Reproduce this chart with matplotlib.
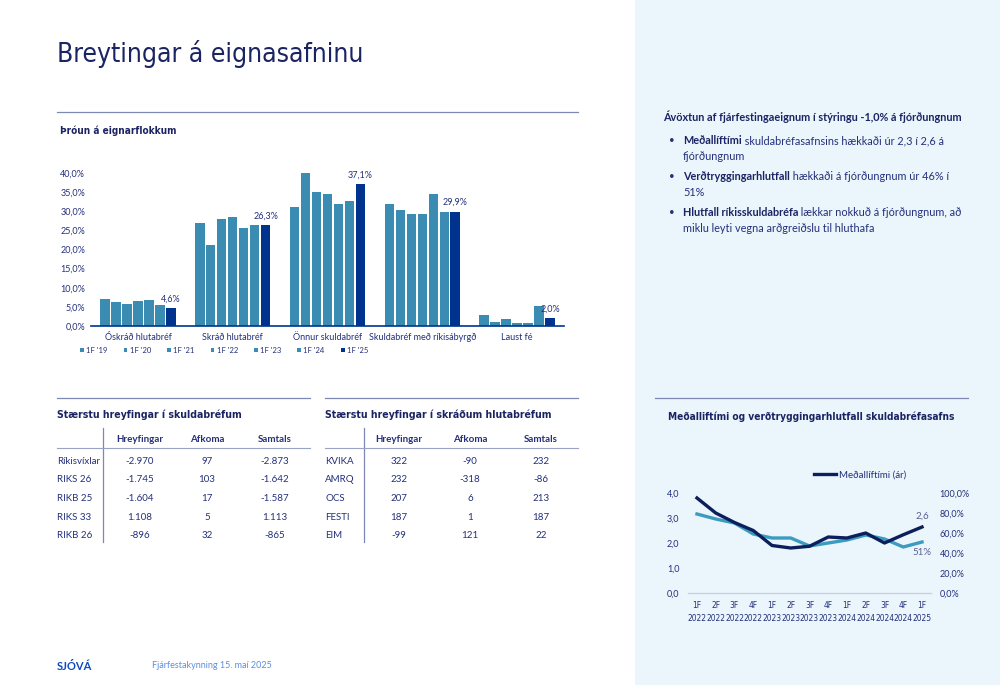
import matplotlib
matplotlib.use("Agg")
import matplotlib.pyplot as plt
from matplotlib.patches import Rectangle
from matplotlib.lines import Line2D
import numpy as np

# ---- data ----
categories = ["Óskráð hlutabréf", "Skráð hlutabréf", "Önnur skuldabréf",
              "Skuldabréf með ríkisábyrgð", "Laust fé"]
periods = ["1F '19", "1F '20", "1F '21", "1F '22", "1F '23", "1F '24", "1F '25"]
alloc = [
    [7.0, 6.2, 5.7, 6.6, 6.8, 5.5, 4.6],
    [27.0, 21.2, 28.1, 28.4, 25.5, 26.4, 26.3],
    [31.0, 40.0, 35.1, 34.6, 31.9, 32.8, 37.1],
    [32.0, 30.4, 29.3, 29.4, 34.6, 29.9, 29.9],
    [3.0, 1.1, 1.7, 0.9, 0.9, 5.1, 2.0],
]
bar_ticks = [0, 5, 10, 15, 20, 25, 30, 35, 40]

quarters = ["1F\n2022", "2F\n2022", "3F\n2022", "4F\n2022", "1F\n2023", "2F\n2023",
            "3F\n2023", "4F\n2023", "1F\n2024", "2F\n2024", "3F\n2024", "4F\n2024", "1F\n2025"]
duration = [3.8, 3.2, 2.82, 2.5, 1.9, 1.8, 1.87, 2.24, 2.2, 2.4, 2.0, 2.33, 2.64]
indexed = [79, 74, 70, 59, 55, 55, 47, 50, 53, 58, 54, 46, 51]

bond_cols = ["Hreyfingar", "Afkoma", "Samtals"]
bond_names = ["Ríkisvíxlar", "RIKS 26", "RIKB 25", "RIKS 33", "RIKB 26"]
bond_rows = [["-2.970", "97", "-2.873"],
             ["-1.745", "103", "-1.642"],
             ["-1.604", "17", "-1.587"],
             ["1.108", "5", "1.113"],
             ["-896", "32", "-865"]]
stock_names = ["KVIKA", "AMRQ", "OCS", "FESTI", "EIM"]
stock_rows = [["322", "-90", "232"],
              ["232", "-318", "-86"],
              ["207", "6", "213"],
              ["187", "1", "187"],
              ["-99", "121", "22"]]

bullets = [
    ("Meðallíftími", " skuldabréfasafnsins hækkaði úr 2,3 í 2,6 á", "fjórðungnum"),
    ("Verðtryggingarhlutfall", " hækkaði á fjórðungnum úr 46% í", "51%"),
    ("Hlutfall ríkisskuldabréfa", " lækkar nokkuð á fjórðungnum, að", "miklu leyti vegna arðgreiðslu til hluthafa"),
]

# ---- style ----
W, H = 1000, 685
NAVY = "#1b2463"
TEXT = "#24307a"
TEAL = "#3a8cb3"
DARK = "#00338d"
LINE_DARK = "#0c1f5c"
LINE_LIGHT = "#3c9cc0"
RULE = "#7d88b3"
PANEL = "#eaf5fc"
COND = dict(family="DejaVu Sans", fontstretch="condensed")
BODY = ["Lato", "DejaVu Sans"]

plt.rcParams["font.family"] = BODY


def fx(x):
    return x / W


def fy(y):
    return 1 - y / H


def box(x0, y0, x1, y1):
    return [fx(x0), fy(y1), (x1 - x0) / W, (y1 - y0) / H]


fig = plt.figure(figsize=(W / 100, H / 100), dpi=100)
fig.patch.set_facecolor("white")
fig.patches.append(Rectangle((fx(635), 0), 1 - fx(635), 1, transform=fig.transFigure,
                             facecolor=PANEL, edgecolor="none", zorder=-1))


def rule(x0, x1, y, color=RULE, lw=0.9):
    fig.add_artist(Line2D([fx(x0), fx(x1)], [fy(y), fy(y)], color=color, lw=lw))


# title
fig.text(fx(57), fy(54), "Breytingar á eignasafninu", fontsize=19,
         color=NAVY, va="center", **COND)
rule(57, 578, 112)
fig.text(fx(60), fy(131), "Þróun á eignarflokkum", fontsize=7.2,
         fontweight="bold", color=NAVY, va="center", **COND)

# ---- bar chart ----
ax = fig.add_axes(box(90.6, 173, 564.4, 326))
n = len(periods)
pitch = 0.116
x = np.arange(len(categories))
for i, p in enumerate(periods):
    vals = [row[i] for row in alloc]
    ax.bar(x + (i - (n - 1) / 2) * pitch, vals, width=0.1,
           color=DARK if i == n - 1 else TEAL, label=p, zorder=2)
for j, row in enumerate(alloc):
    ax.text(x[j] + (n - 1) / 2 * pitch, row[-1] + 1.2, f"{row[-1]:.1f}%".replace(".", ","),
            ha="center", va="bottom", fontsize=6.5, color=TEXT)
ax.set_xlim(-0.5, 4.5)
ax.set_ylim(0, 40)
ax.set_yticks(bar_ticks)
ax.set_yticklabels([f"{t:.1f}%".replace(".", ",") for t in bar_ticks], fontsize=6.5, color=TEXT)
ax.set_xticks(x)
ax.set_xticklabels(categories, fontsize=6.5, color=TEXT)
ax.tick_params(length=0, pad=4)
ax.tick_params(axis="x", pad=5)
for s in ["top", "right", "left"]:
    ax.spines[s].set_visible(False)
ax.spines["bottom"].set_color(DARK)
ax.spines["bottom"].set_linewidth(1.2)
ax.set_facecolor("none")
leg = fig.legend(*ax.get_legend_handles_labels(), loc="center left",
                 bbox_to_anchor=(fx(77), fy(350)), ncol=7, frameon=False,
                 fontsize=5.5, handlelength=0.5, handleheight=0.5, handletextpad=0.3,
                 columnspacing=2.1, labelcolor=TEXT, borderaxespad=0)

# ---- tables ----
def draw_table(x0, x1, title, names, rows, vline, col_x):
    rule(x0, x1, 398)
    fig.text(fx(x0), fy(415), title, fontsize=7.6, fontweight="bold",
             color=NAVY, va="center", **COND)
    fig.add_artist(Line2D([fx(vline), fx(vline)], [fy(428), fy(542)], color=RULE, lw=0.9))
    rule(x0, x1, 448, color="#9aa3c4", lw=0.8)
    for c, cx in zip(bond_cols, col_x):
        fig.text(fx(cx), fy(440), c, ha="center", va="center", fontsize=7,
                 fontweight="bold", color=TEXT)
    for r, (nm, vals) in enumerate(zip(names, rows)):
        yy = 461 + r * 18.7
        fig.text(fx(x0), fy(yy), nm, ha="left", va="center", fontsize=7, color=TEXT)
        for v, cx in zip(vals, col_x):
            fig.text(fx(cx), fy(yy), v, ha="center", va="center", fontsize=7, color=TEXT)


draw_table(57, 310, "Stærstu hreyfingar í skuldabréfum", bond_names, bond_rows, 103,
           [140, 207, 275])
draw_table(325, 578, "Stærstu hreyfingar í skráðum hlutabréfum", stock_names, stock_rows, 364,
           [399, 470, 541])

# ---- right panel text ----
fig.text(fx(663), fy(117), "Ávöxtun af fjárfestingaeignum í stýringu -1,0% á fjórðungnum",
         fontsize=7.8, fontweight="bold", color=NAVY, va="center")
by = 141
for bold, rest, line2 in bullets:
    fig.text(fx(669), fy(by), "•", fontsize=7, color=TEXT, va="center")
    t = fig.text(fx(683), fy(by), bold, fontsize=7.8, fontweight="bold", color=NAVY, va="center")
    fig.canvas.draw()
    bb = t.get_window_extent()
    fig.text(bb.x1 / W, fy(by), rest, fontsize=7.8, color=TEXT, va="center")
    fig.text(fx(683), fy(by + 16), line2, fontsize=7.8, color=TEXT, va="center")
    by += 36

rule(655, 968, 398)
fig.text(fx(668), fy(417), "Meðalliftími og verðtryggingarhlutfall skuldabréfasafns",
         fontsize=7.3, fontweight="bold", color=NAVY, va="center", **COND)

# ---- line chart ----
lx = fig.add_axes(box(687.6, 493, 931.4, 593))
xi = np.arange(len(quarters))
lx.plot(xi, duration, color=LINE_DARK, lw=2.4, label="Meðallíftími (ár)", zorder=3)
rx = lx.twinx()
rx.plot(xi, indexed, color=LINE_LIGHT, lw=2.4, zorder=2)
lx.set_zorder(rx.get_zorder() + 1)
lx.patch.set_visible(False)
lx.set_xlim(-0.5, 12.5)
lx.set_ylim(0, 4)
rx.set_ylim(0, 100)
lx.set_yticks([0, 1, 2, 3, 4])
lx.set_yticklabels(["0,0", "1,0", "2,0", "3,0", "4,0"], fontsize=6.5, color=TEXT)
rx.set_yticks([0, 20, 40, 60, 80, 100])
rx.set_yticklabels([f"{v:.1f}%".replace(".", ",") for v in [0, 20, 40, 60, 80, 100]],
                   fontsize=6.5, color=TEXT)
lx.set_xticks(xi)
lx.set_xticklabels(quarters, fontsize=6, color=TEXT, linespacing=1.5, **COND)
lx.tick_params(length=0, pad=6)
rx.tick_params(length=0, pad=6)
for a in (lx, rx):
    for s in ["top", "right", "left"]:
        a.spines[s].set_visible(False)
    a.spines["bottom"].set_color("#c5cde0")
lx.text(xi[-1], duration[-1] + 0.25, "2,6", ha="center", va="bottom",
        fontsize=7, color="#5a6090")
rx.text(xi[-1], indexed[-1] - 6, f"{indexed[-1]}%", ha="center", va="top",
        fontsize=7, color="#5a6090")
fig.legend(*lx.get_legend_handles_labels(), loc="center", bbox_to_anchor=(fx(860), fy(475)),
           frameon=False, fontsize=7, handlelength=2.2, handletextpad=0.3,
           labelcolor=TEXT, borderaxespad=0)

# ---- footer ----
fig.text(fx(57), fy(666), "SJÓVÁ", fontsize=8, fontweight="bold", color="#0a49c2", va="center")
fig.text(fx(152), fy(666), "Fjárfestakynning 15. maí 2025", fontsize=6.5, color="#5b8fe0",
         va="center")

fig.savefig("out.png", dpi=100)
